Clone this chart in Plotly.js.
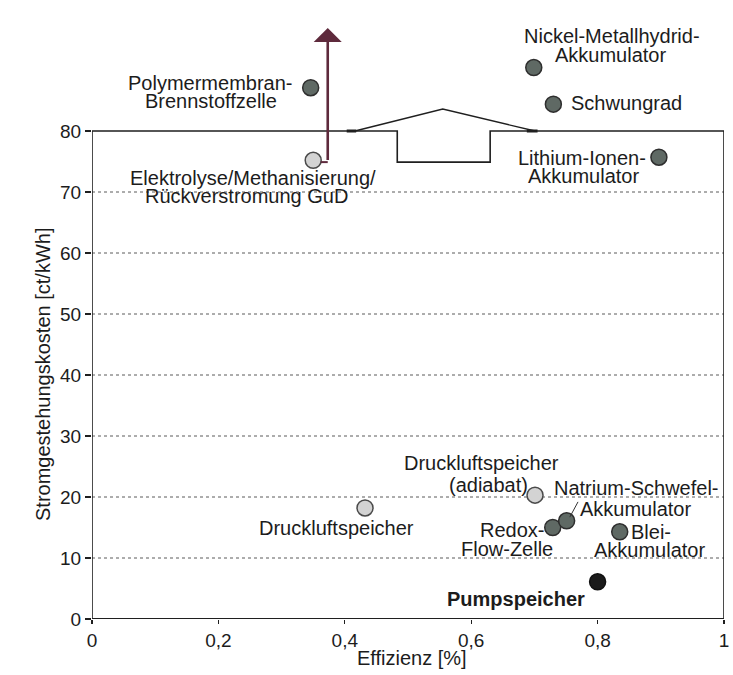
<!DOCTYPE html>
<html>
<head>
<meta charset="utf-8">
<script src="https://cdn.plot.ly/plotly-3.0.1.min.js"></script>
<style>
  html, body { margin: 0; padding: 0; background: #ffffff; }
  #chart { width: 733px; height: 675px; }
</style>
</head>
<body>
<div id="chart"></div>
<script>
// ---- Data ----
const speicher = [
  "Polymermembran-Brennstoffzelle",
  "Elektrolyse/Methanisierung/Rückverstromung GuD",
  "Nickel-Metallhydrid-Akkumulator",
  "Schwungrad",
  "Lithium-Ionen-Akkumulator",
  "Druckluftspeicher (adiabat)",
  "Druckluftspeicher",
  "Redox-Flow-Zelle",
  "Natrium-Schwefel-Akkumulator",
  "Blei-Akkumulator",
  "Pumpspeicher"
];
const effizienz = [0.346, 0.350, 0.699, 0.730, 0.897, 0.701, 0.432, 0.729, 0.751, 0.835, 0.800];
const kosten    = [87.1, 75.2, 90.4, 84.4, 75.7, 20.3, 18.2, 15.0, 16.1, 14.3, 6.1];
const gruppe    = ["dunkel", "hell", "dunkel", "dunkel", "dunkel", "hell", "hell", "dunkel", "dunkel", "dunkel", "schwarz"];

const xTickVals = [0, 0.2, 0.4, 0.6, 0.8, 1];
const xTickText = ["0", "0,2", "0,4", "0,6", "0,8", "1"];
const yTickVals = [0, 10, 20, 30, 40, 50, 60, 70, 80];
const yTickText = ["0", "10", "20", "30", "40", "50", "60", "70", "80"];
const gridVals  = [10, 20, 30, 40, 50, 60, 70];

const xTitle = "Effizienz [%]";
const yTitle = "Stromgestehungskosten [ct/kWh]";

// ---- Styles ----
const fillByGroup = { dunkel: "#5f6964", hell: "#d3d3d3", schwarz: "#1b1b1b" };
const lineByGroup = { dunkel: "#2e2e2e", hell: "#4a4a4a", schwarz: "#111111" };
const txt = "#1c1c1c";
const FONT = "Liberation Sans, Arial, Helvetica, sans-serif";

const traces = ["dunkel", "hell", "schwarz"].map(g => {
  const idx = gruppe.map((v, i) => v === g ? i : -1).filter(i => i >= 0);
  return {
    type: "scatter", mode: "markers", name: g,
    x: idx.map(i => effizienz[i]),
    y: idx.map(i => kosten[i]),
    text: idx.map(i => speicher[i]),
    hoverinfo: "text",
    marker: { size: 16, color: fillByGroup[g], line: { color: lineByGroup[g], width: 1.5 } },
    cliponaxis: false
  };
});

// ---- Label lines (one annotation per line to get the tight line spacing of the original) ----
const labelLines = [
  ["Polymermembran-", 0.1867, 87.9, "center", false],
  ["Brennstoffzelle", 0.189, 85.0, "center", false],
  ["Elektrolyse/Methanisierung/", 0.2555, 72.3, "center", false],
  ["Rückverstromung GuD", 0.2445, 69.35, "center", false],
  ["Nickel-Metallhydrid-", 0.8228, 95.65, "center", false],
  ["Akkumulator", 0.8204, 92.45, "center", false],
  ["Schwungrad", 0.7563, 84.6, "left", false],
  ["Lithium-Ionen-", 0.776, 75.55, "center", false],
  ["Akkumulator", 0.777, 72.55, "center", false],
  ["Druckluftspeicher", 0.6163, 25.65, "center", false],
  ["(adiabat)", 0.6266, 21.9, "center", false],
  ["Natrium-Schwefel-", 0.8603, 21.55, "center", false],
  ["Akkumulator", 0.8592, 18.1, "center", false],
  ["Redox-", 0.7168, 14.6, "right", false],
  ["Flow-Zelle", 0.6566, 11.4, "center", false],
  ["Blei-", 0.8513, 14.25, "left", false],
  ["Akkumulator", 0.8829, 11.25, "center", false],
  ["Druckluftspeicher", 0.3869, 14.85, "center", false],
  ["Pumpspeicher", 0.6709, 3.35, "center", true]
];

const annotations = labelLines.map(([t, x, y, anchor, bold]) => ({
  x: x, y: y, xref: "x", yref: "y",
  text: bold ? "<b>" + t + "</b>" : t,
  showarrow: false, xanchor: anchor, yanchor: "middle",
  font: { family: FONT, size: 20, color: txt },
  borderpad: 0
}));

// axis titles (paper coordinates, outside the plot area)
annotations.push({
  x: 0.506, y: -0.064, xref: "paper", yref: "paper", text: xTitle, showarrow: false,
  xanchor: "center", yanchor: "middle", font: { family: FONT, size: 20, color: txt }
});
annotations.push({
  x: -0.0775, y: 0.4, xref: "paper", yref: "paper", text: yTitle, showarrow: false,
  textangle: -90, xanchor: "center", yanchor: "middle", font: { family: FONT, size: 20, color: txt }
});
// arrow (Elektrolyse cost off the scale)
annotations.push({
  x: 0.373, y: 96.9, ax: 0.373, ay: 75.0, xref: "x", yref: "y", axref: "x", ayref: "y",
  text: "", showarrow: true, arrowhead: 1, arrowsize: 1.8, arrowwidth: 2.6, arrowcolor: "#5e2a3c"
});

// ---- Shapes: frame with axis break, grid lines ----
const frameColor = "#1f1f1f";
const shapes = [];
gridVals.forEach(v => shapes.push({
  type: "line", xref: "x", yref: "y", x0: 0, x1: 1, y0: v, y1: v,
  line: { color: "#5a5a5a", width: 1, dash: "dot" }, layer: "below"
}));
// left, bottom, right
shapes.push({ type: "line", xref: "x", yref: "y", x0: 0, x1: 0, y0: 0, y1: 80, line: { color: frameColor, width: 1.6 } });
shapes.push({ type: "line", xref: "x", yref: "y", x0: 0, x1: 1, y0: 0, y1: 0, line: { color: frameColor, width: 2 } });
shapes.push({ type: "line", xref: "x", yref: "y", x0: 1, x1: 1, y0: 0, y1: 80, line: { color: frameColor, width: 1.6 } });
// top with notch
shapes.push({ type: "path", xref: "x", yref: "y",
  path: "M 0 80 L 0.483 80 L 0.483 74.9 L 0.630 74.9 L 0.630 80 L 1 80",
  line: { color: frameColor, width: 1.6 } });
// roof of break
shapes.push({ type: "path", xref: "x", yref: "y",
  path: "M 0.416 80 L 0.555 83.6 L 0.701 80",
  line: { color: frameColor, width: 1.3 } });
shapes.push({ type: "line", xref: "x", yref: "y", x0: 0.403, x1: 0.418, y0: 80, y1: 80, line: { color: frameColor, width: 3 } });
shapes.push({ type: "line", xref: "x", yref: "y", x0: 0.688, x1: 0.705, y0: 80, y1: 80, line: { color: frameColor, width: 3 } });
// connector from Elektrolyse point to arrow
shapes.push({ type: "line", xref: "x", yref: "y", x0: 0.362, x1: 0.373, y0: 74.9, y1: 74.9, line: { color: "#5e2a3c", width: 2 } });
// Natrium-Schwefel leader line
shapes.push({ type: "line", xref: "x", yref: "y", x0: 0.756, x1: 0.769, y0: 16.7, y1: 19.2, line: { color: "#333333", width: 1 } });

const layout = {
  width: 733, height: 675,
  margin: { l: 92, r: 9, t: 9, b: 56 },
  paper_bgcolor: "#ffffff", plot_bgcolor: "#ffffff",
  showlegend: false,
  font: { family: FONT, size: 19, color: txt },
  xaxis: {
    range: [0, 1], tickvals: xTickVals, ticktext: xTickText,
    showgrid: false, zeroline: false, showline: false,
    ticks: "outside", ticklen: 4, tickcolor: frameColor, tickwidth: 1.2,
    tickfont: { family: FONT, size: 19, color: txt }, fixedrange: true
  },
  yaxis: {
    range: [0, 100], tickvals: yTickVals, ticktext: yTickText,
    showgrid: false, zeroline: false, showline: false,
    ticks: "outside", ticklen: 6, tickcolor: frameColor, tickwidth: 1.2,
    tickfont: { family: FONT, size: 19, color: txt }, fixedrange: true
  },
  annotations: annotations,
  shapes: shapes
};

Plotly.newPlot("chart", traces, layout, { displayModeBar: false, staticPlot: true });
</script>
</body>
</html>
